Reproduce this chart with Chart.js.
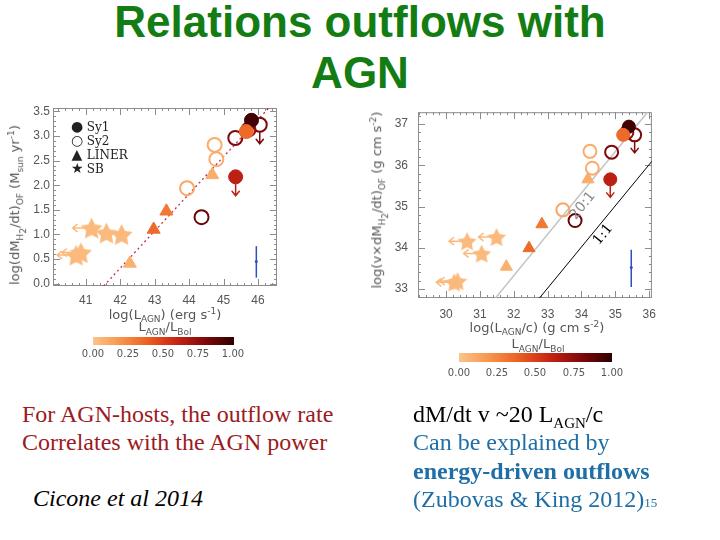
<!DOCTYPE html>
<html><head><meta charset="utf-8">
<script src="https://cdn.jsdelivr.net/npm/chart.js@4.4.1/dist/chart.umd.min.js"></script>
<style>
html,body{margin:0;padding:0;background:#fff;}
#stage{position:relative;width:720px;height:540px;overflow:hidden;background:#fff;}
.abs{position:absolute;white-space:nowrap;}
canvas{position:absolute;}
.title{font-family:"Liberation Sans",Arial,sans-serif;font-weight:bold;font-size:44px;line-height:51px;color:#137d13;left:0;width:720px;text-align:center;}
.ax{font-family:"DejaVu Sans",sans-serif;color:#555;font-size:13px;transform:translate(-50%,-50%);}
.ax sub,.ax sup{font-size:9px;}
.rot{transform:translate(-50%,-50%) rotate(-90deg);}
.cbar{height:8px;}
.cbl{font-family:"DejaVu Sans",sans-serif;color:#555;font-size:10px;transform:translate(-50%,0);}
.leg{font-family:"DejaVu Serif",serif;font-size:12px;color:#222;line-height:14px;}
.leg b{display:inline-block;width:12px;text-align:center;font-weight:normal;font-family:"DejaVu Sans",sans-serif;font-size:14px;}
.txt{font-family:"Liberation Serif","Times New Roman",serif;font-size:24px;line-height:28px;}
.red{color:#9b1b22;}
.blue{color:#1f6fa6;}
</style></head>
<body><div id="stage">
<div class="abs title" style="top:-4px;">Relations outflows with</div>
<div class="abs title" style="top:47px;">AGN</div>

<canvas id="cL" width="290" height="230" style="left:0;top:95px;"></canvas>
<canvas id="cR" width="300" height="250" style="left:365px;top:95px;"></canvas>

<!-- left panel texts -->
<div class="abs ax" style="left:165px;top:315px;">log(L<sub>AGN</sub>) (erg s<sup>-1</sup>)</div>
<div class="abs ax rot" style="left:17px;top:205px;">log(dM<sub>H<sub>2</sub></sub>/dt)<sub>OF</sub> (M<sub>sun</sub> yr<sup>-1</sup>)</div>
<div class="abs ax" style="left:165px;top:328px;">L<sub>AGN</sub>/L<sub>Bol</sub></div>
<div class="abs cbar" id="cbL" style="left:93px;top:337px;width:141px;"></div>
<div class="abs cbl" style="left:93px;top:348px;">0.00</div>
<div class="abs cbl" style="left:128px;top:348px;">0.25</div>
<div class="abs cbl" style="left:163px;top:348px;">0.50</div>
<div class="abs cbl" style="left:198px;top:348px;">0.75</div>
<div class="abs cbl" style="left:233px;top:348px;">1.00</div>
<div class="abs leg" style="left:71px;top:119px;"><b>●</b> Sy1</div>
<div class="abs leg" style="left:71px;top:133px;"><b>○</b> Sy2</div>
<div class="abs leg" style="left:71px;top:147px;"><b>▲</b> LINER</div>
<div class="abs leg" style="left:71px;top:161px;"><b>★</b> SB</div>

<!-- right panel texts -->
<div class="abs ax" style="left:537px;top:328px;">log(L<sub>AGN</sub>/c) (g cm s<sup>-2</sup>)</div>
<div class="abs ax rot" style="left:379px;top:200px;">log(v×dM<sub>H<sub>2</sub></sub>/dt)<sub>OF</sub> (g cm s<sup>-2</sup>)</div>
<div class="abs ax" style="left:538px;top:345px;">L<sub>AGN</sub>/L<sub>Bol</sub></div>
<div class="abs cbar" id="cbR" style="left:459px;top:353px;width:153px;height:9px;"></div>
<div class="abs cbl" style="left:459px;top:367px;">0.00</div>
<div class="abs cbl" style="left:497px;top:367px;">0.25</div>
<div class="abs cbl" style="left:535px;top:367px;">0.50</div>
<div class="abs cbl" style="left:574px;top:367px;">0.75</div>
<div class="abs cbl" style="left:612px;top:367px;">1.00</div>

<!-- slide text -->
<div class="abs txt red" style="left:22px;top:400px;">For AGN-hosts, the outflow rate</div>
<div class="abs txt red" style="left:22px;top:428px;">Correlates with the AGN power</div>
<div class="abs txt" style="left:33px;top:484px;font-style:italic;color:#000;">Cicone et al 2014</div>
<div class="abs txt" style="left:413px;top:400px;color:#000;">dM/dt v ~20 L<sub style="font-size:15px;">AGN</sub>/c</div>
<div class="abs txt blue" style="left:413px;top:428px;">Can be explained by</div>
<div class="abs txt blue" style="left:413px;top:457px;font-weight:bold;">energy-driven outflows</div>
<div class="abs txt blue" style="left:413px;top:485px;">(Zubovas &amp; King 2012)<span style="font-size:13px;">15</span></div>
</div>

<script>
// ---------------- DATA ----------------
// Sy1 (filled circles)
const sy1LogLagn = [45.81, 45.66, 45.35];
const sy1LogMdot = [3.32, 3.09, 2.17];
const sy1LogLc   = [35.40, 35.23, 34.85];
const sy1LogPof  = [36.94, 36.74, 35.66];
const sy1Frac    = [0.95, 0.35, 0.62];
const sy1Upper   = [false, false, true];
// Sy2 (open circles)
const sy2LogLagn = [46.05, 45.72, 45.34, 44.74, 44.79, 43.94, 44.36];
const sy2LogMdot = [3.23, 3.13, 2.96, 2.82, 2.53, 1.94, 1.35];
const sy2LogLc   = [35.57, 35.34, 34.89, 34.25, 34.32, 33.45, 33.81];
const sy2LogPof  = [36.74, 36.80, 36.32, 36.34, 35.93, 34.92, 34.66];
const sy2Frac    = [0.80, 0.75, 0.80, 0.10, 0.10, 0.12, 0.85];
const sy2Upper   = [true, false, false, false, false, false, false];
// LINER (triangles)
const linLogLagn = [44.67, 43.34, 42.97, 42.28];
const linLogMdot = [2.21, 1.47, 1.10, 0.41];
const linLogLc   = [34.19, 32.83, 32.45, 31.78];
const linLogPof  = [35.66, 34.57, 33.99, 33.54];
const linFrac    = [0.10, 0.30, 0.35, 0.08];
// SB (stars)
const sbLogLagn  = [41.17, 41.60, 42.04, 40.72, 40.86];
const sbLogMdot  = [1.13, 1.03, 1.00, 0.58, 0.63];
const sbLogLc    = [30.62, 31.05, 31.49, 30.24, 30.34];
const sbLogPof   = [34.16, 33.86, 34.26, 33.16, 33.19];
const sbFrac     = [0.04, 0.04, 0.04, 0.04, 0.04];
const sbLimitL   = [true, false, false, true, true];
const sbLimitR   = [true, true, true, true, true];
// reference lines (endpoints)
const fitLineL   = [{x: 41.52, y: -0.05}, {x: 46.31, y: 3.57}];
const line20to1  = [{x: 31.46, y: 32.78}, {x: 35.95, y: 37.29}];
const line1to1   = [{x: 32.76, y: 32.78}, {x: 36.08, y: 36.10}];
// typical error bars
const errL = {x: 45.95, lo: 0.12, hi: 0.76, mid: 0.45};
const errR = {x: 35.47, lo: 33.05, hi: 33.95, mid: 33.52};
// ticks
const xTicksL = [41, 42, 43, 44, 45, 46];
const yTicksL = [0.0, 0.5, 1.0, 1.5, 2.0, 2.5, 3.0, 3.5];
const xTicksR = [30, 31, 32, 33, 34, 35, 36];
const yTicksR = [33, 34, 35, 36, 37];

// ---------------- STYLE ----------------
const CMAP = [[0, [252, 196, 138]], [0.2, [247, 148, 74]], [0.4, [234, 92, 32]],
              [0.6, [196, 34, 20]], [0.8, [126, 8, 10]], [1, [46, 0, 0]]];
function cmap(t) {
  for (let i = 1; i < CMAP.length; i++) {
    if (t <= CMAP[i][0]) {
      const [t0, c0] = CMAP[i - 1], [t1, c1] = CMAP[i];
      const f = (t - t0) / (t1 - t0);
      return 'rgb(' + c0.map((c, k) => Math.round(c + (c1[k] - c) * f)).join(',') + ')';
    }
  }
  return 'rgb(' + CMAP[CMAP.length - 1][1].join(',') + ')';
}
const grad = 'linear-gradient(to right,' + CMAP.map(s => 'rgb(' + s[1].join(',') + ') ' + (s[0] * 100) + '%').join(',') + ')';
document.getElementById('cbL').style.background = grad;
document.getElementById('cbR').style.background = grad;

function starImage(color, size) {
  const c = document.createElement('canvas');
  c.width = c.height = size;
  const g = c.getContext('2d');
  const R = size / 2, r = R * 0.5, cx = size / 2, cy = size / 2 + size * 0.05;
  g.beginPath();
  for (let i = 0; i < 10; i++) {
    const ang = -Math.PI / 2 + i * Math.PI / 5;
    const rad = i % 2 === 0 ? R : r;
    const px = cx + rad * Math.cos(ang), py = cy + rad * Math.sin(ang);
    if (i === 0) g.moveTo(px, py); else g.lineTo(px, py);
  }
  g.closePath(); g.fillStyle = color; g.fill();
  return c;
}
const pts = (xs, ys) => xs.map((x, i) => ({x: x, y: ys[i]}));

const frameTicks = {
  id: 'frameTicks',
  beforeDatasetsDraw(chart, args, o) {
    const {ctx, chartArea: a} = chart;
    const xs = chart.scales.x, ys = chart.scales.y;
    ctx.save();
    ctx.strokeStyle = o.color; ctx.lineWidth = 1;
    ctx.strokeRect(a.left + 0.5, a.top + 0.5, a.width - 1, a.height - 1);
    const range = (s, step) => { const out = []; for (let k = Math.ceil(s.min / step - 1e-6); k * step <= s.max + 1e-6; k++) out.push(k * step); return out; };
    const tick = (vals, scale, horiz, len) => {
      vals.forEach(v => {
        const p = Math.round(scale.getPixelForValue(v)) + 0.5;
        ctx.beginPath();
        if (horiz) { if (p < a.left || p > a.right) return; ctx.moveTo(p, a.bottom); ctx.lineTo(p, a.bottom - len); ctx.moveTo(p, a.top); ctx.lineTo(p, a.top + len); }
        else { if (p < a.top || p > a.bottom) return; ctx.moveTo(a.left, p); ctx.lineTo(a.left + len, p); ctx.moveTo(a.right, p); ctx.lineTo(a.right - len, p); }
        ctx.stroke();
      });
    };
    tick(range(xs, o.xMinor), xs, true, 3);
    tick(range(ys, o.yMinor), ys, false, 3);
    tick(xs.ticks.map(t => t.value), xs, true, 7);
    tick(ys.ticks.map(t => t.value), ys, false, 7);
    ctx.restore();
  }
};

const limitArrows = {
  id: 'limitArrows',
  afterDatasetsDraw(chart, args, o) {
    const {ctx} = chart; const xs = chart.scales.x, ys = chart.scales.y;
    ctx.save(); ctx.lineWidth = 1.5; ctx.lineCap = 'round';
    (o.items || []).forEach(it => {
      const px = xs.getPixelForValue(it.x), py = ys.getPixelForValue(it.y);
      const h = o.head;
      ctx.strokeStyle = it.color;
      ctx.beginPath();
      if (it.dir === 'down') {
        const ty = py + o.len;
        ctx.moveTo(px, py + it.start); ctx.lineTo(px, ty);
        ctx.moveTo(px - h * 0.8, ty - h); ctx.lineTo(px, ty); ctx.lineTo(px + h * 0.8, ty - h);
      } else {
        const tx = px - o.len;
        ctx.moveTo(px - it.start, py); ctx.lineTo(tx, py);
        ctx.moveTo(tx + h, py - h * 0.8); ctx.lineTo(tx, py); ctx.lineTo(tx + h, py + h * 0.8);
      }
      ctx.stroke();
    });
    ctx.restore();
  }
};

const lineLabels = {
  id: 'lineLabels',
  afterDatasetsDraw(chart, args, o) {
    const {ctx} = chart; const xs = chart.scales.x, ys = chart.scales.y;
    (o.items || []).forEach(it => {
      const p0 = it.line[0], p1 = it.line[1];
      const ang = Math.atan2(ys.getPixelForValue(p1.y) - ys.getPixelForValue(p0.y), xs.getPixelForValue(p1.x) - xs.getPixelForValue(p0.x));
      ctx.save();
      ctx.translate(xs.getPixelForValue(it.x), ys.getPixelForValue(it.y));
      ctx.rotate(ang);
      ctx.font = it.font; ctx.fillStyle = it.color;
      ctx.textAlign = 'center'; ctx.textBaseline = 'middle';
      ctx.fillText(it.text, 0, 0);
      ctx.restore();
    });
  }
};

const tickFont = {family: 'Liberation Sans', size: 12};
function makeScales(xr, yr, xTicks, yTicks, yDec, xH, yW, xPad, yPad) {
  return {
    x: {type: 'linear', min: xr[0], max: xr[1],
        afterBuildTicks: s => { s.ticks = xTicks.map(v => ({value: v})); },
        afterFit: s => { s.height = xH; },
        grid: {display: false, drawTicks: false}, border: {display: false},
        ticks: {padding: xPad, color: '#555', font: tickFont, maxRotation: 0, autoSkip: false, callback: v => String(v)}},
    y: {type: 'linear', min: yr[0], max: yr[1],
        afterBuildTicks: s => { s.ticks = yTicks.map(v => ({value: v})); },
        afterFit: s => { s.width = yW; },
        grid: {display: false, drawTicks: false}, border: {display: false},
        ticks: {padding: yPad, color: '#555', font: tickFont, autoSkip: false, callback: v => v.toFixed(yDec)}}
  };
}

function panel(id, d) {
  const sy1C = sy1Frac.map(cmap), sy2C = sy2Frac.map(cmap), linC = linFrac.map(cmap), sbC = sbFrac.map(cmap);
  const arrows = [];
  d.sy1.forEach((p, i) => { if (sy1Upper[i]) arrows.push({x: p.x, y: p.y, dir: 'down', color: sy1C[i], start: d.rc}); });
  d.sy2.forEach((p, i) => { if (sy2Upper[i]) arrows.push({x: p.x, y: p.y, dir: 'down', color: sy2C[i], start: d.rc}); });
  d.sb.forEach((p, i) => { if (d.sbLim[i]) arrows.push({x: p.x, y: p.y, dir: 'left', color: sbC[i], start: d.star * 0.35}); });
  const datasets = [
    {label: 'Sy1', data: d.sy1, pointStyle: 'circle', pointRadius: d.rc, pointBackgroundColor: sy1C, pointBorderColor: sy1C, pointBorderWidth: 1, order: 1},
    {label: 'Sy2', data: d.sy2, pointStyle: 'circle', pointRadius: d.rc, pointBackgroundColor: 'rgba(255,255,255,0)', pointBorderColor: sy2C, pointBorderWidth: 2, order: 2},
    {label: 'LINER', data: d.lin, pointStyle: 'triangle', pointRadius: d.rt, pointBackgroundColor: linC, pointBorderColor: linC, pointBorderWidth: 1, order: 3},
    {label: 'SB', data: d.sb, pointStyle: sbC.map(c => starImage(c, d.star)), pointRadius: d.star / 2, order: 4},
    {label: 'err', data: [{x: d.err.x, y: d.err.lo}, {x: d.err.x, y: d.err.hi}], showLine: true, borderColor: '#2f4fbf', borderWidth: 1.5, pointRadius: 0, order: 6},
    {label: 'errmid', data: [{x: d.err.x, y: d.err.mid}], pointRadius: 1.5, pointBackgroundColor: '#2f4fbf', pointBorderWidth: 0, order: 5}
  ].concat(d.lines);
  return new Chart(document.getElementById(id), {
    type: 'scatter',
    data: {datasets: datasets},
    options: {
      responsive: false, animation: false, events: [],
      layout: {padding: d.pad},
      plugins: {legend: {display: false}, tooltip: {enabled: false},
        frameTicks: {color: '#8c8c8c', xMinor: d.xMinor, yMinor: d.yMinor},
        limitArrows: {items: arrows, len: d.alen, head: 4.5},
        lineLabels: {items: d.labels}},
      scales: d.scales
    },
    plugins: [frameTicks, limitArrows, lineLabels]
  });
}

panel('cL', {
  sy1: pts(sy1LogLagn, sy1LogMdot), sy2: pts(sy2LogLagn, sy2LogMdot),
  lin: pts(linLogLagn, linLogMdot), sb: pts(sbLogLagn, sbLogMdot), sbLim: sbLimitL,
  rc: 7, rt: 7.5, star: 23, alen: 19, err: errL, xMinor: 0.2, yMinor: 0.1,
  pad: {top: 13, right: 13, left: 0, bottom: 0},
  lines: [{label: 'fit', data: fitLineL, showLine: true, borderColor: '#c0304a', borderWidth: 1.3, borderDash: [2, 3], pointRadius: 0, order: 7}],
  labels: [],
  scales: makeScales([40.05, 46.55], [-0.05, 3.57], xTicksL, yTicksL, 1, 39, 53, 7, 3)
});

panel('cR', {
  sy1: pts(sy1LogLc, sy1LogPof), sy2: pts(sy2LogLc, sy2LogPof),
  lin: pts(linLogLc, linLogPof), sb: pts(sbLogLc, sbLogPof), sbLim: sbLimitR,
  rc: 6.5, rt: 7, star: 20, alen: 18, err: errR, xMinor: 0.2, yMinor: 0.2,
  pad: {top: 10, right: 7, left: 0, bottom: 0},
  lines: [
    {label: '20:1', data: line20to1, showLine: true, borderColor: '#c4c4c4', borderWidth: 1.5, pointRadius: 0, order: 7},
    {label: '1:1', data: line1to1, showLine: true, borderColor: '#000', borderWidth: 1, pointRadius: 0, order: 8}
  ],
  labels: [
    {text: '20:1', x: 34.04, y: 35.02, line: line20to1, font: '14px "DejaVu Sans"', color: '#8a8a8a'},
    {text: '1:1', x: 34.64, y: 34.32, line: line1to1, font: '14px "DejaVu Serif"', color: '#000'}
  ],
  scales: makeScales([29.17, 36.08], [32.78, 37.29], xTicksR, yTicksR, 0, 47, 53, 9, 10)
});
</script>
</body></html>
